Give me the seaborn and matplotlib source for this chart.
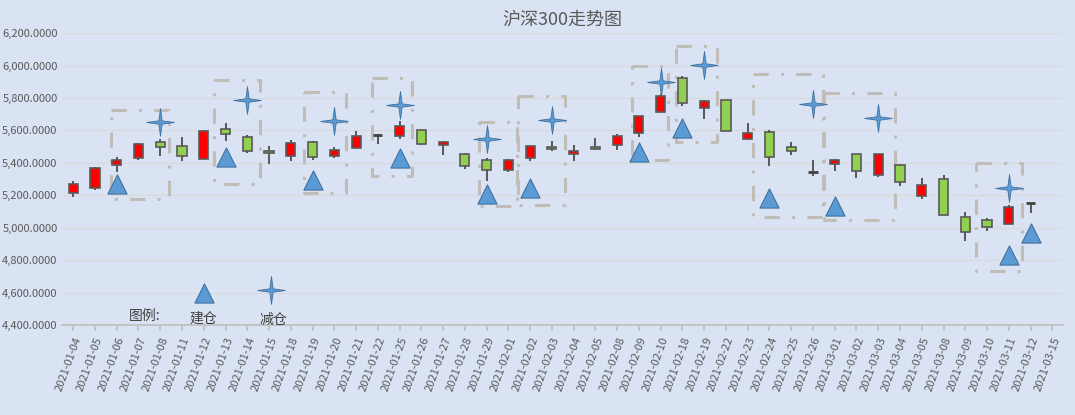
import numpy as np
import matplotlib
matplotlib.use("Agg")
import matplotlib.pyplot as plt
from matplotlib.path import Path
from matplotlib.ticker import FuncFormatter
import seaborn as sns

dates = ["2021-01-04", "2021-01-05", "2021-01-06", "2021-01-07", "2021-01-08", "2021-01-11",
         "2021-01-12", "2021-01-13", "2021-01-14", "2021-01-15", "2021-01-18", "2021-01-19",
         "2021-01-20", "2021-01-21", "2021-01-22", "2021-01-25", "2021-01-26", "2021-01-27",
         "2021-01-28", "2021-01-29", "2021-02-01", "2021-02-02", "2021-02-03", "2021-02-04",
         "2021-02-05", "2021-02-08", "2021-02-09", "2021-02-10", "2021-02-18", "2021-02-19",
         "2021-02-22", "2021-02-23", "2021-02-24", "2021-02-25", "2021-02-26", "2021-03-01",
         "2021-03-02", "2021-03-03", "2021-03-04", "2021-03-05", "2021-03-08", "2021-03-09",
         "2021-03-10", "2021-03-11", "2021-03-12", "2021-03-15"]
nan = np.nan
opens = [5215, 5246, 5388, 5431, 5529, 5505, 5425, 5609, 5560, 5474, 5443, 5529, 5443, 5492,
         5570, 5566, 5603, 5511, 5455, 5418, 5357, 5431, 5498, 5455, 5498, 5511, 5585, 5714,
         5923, 5738, 5788, 5548, 5591, 5498, 5342, 5394, 5455, 5326, 5388, 5195, 5302, 5068,
         5047, 5023, 5151, nan]
closes = [5271, 5369, 5418, 5517, 5498, 5441, 5599, 5578, 5474, 5462, 5523, 5437, 5480, 5564,
          5572, 5628, 5517, 5529, 5382, 5357, 5418, 5505, 5486, 5474, 5486, 5564, 5689, 5812,
          5769, 5782, 5597, 5585, 5437, 5474, 5344, 5418, 5349, 5455, 5281, 5265, 5078, 4973,
          5004, 5129, 5153, nan]
highs = [5287, 5372, 5437, 5520, 5548, 5560, 5601, 5646, 5570, 5503, 5539, 5537, 5498, 5595,
         5578, 5656, 5605, 5535, 5461, 5431, 5424, 5505, 5535, 5511, 5554, 5576, 5689, 5825,
         5933, 5790, 5788, 5646, 5605, 5529, 5416, 5424, 5455, 5455, 5394, 5308, 5326, 5099,
         5057, 5142, 5153, nan]
lows = [5191, 5232, 5343, 5420, 5441, 5410, 5422, 5535, 5460, 5396, 5414, 5418, 5431, 5490,
        5517, 5548, 5512, 5449, 5363, 5287, 5343, 5410, 5474, 5412, 5478, 5480, 5560, 5706,
        5749, 5671, 5597, 5540, 5382, 5447, 5318, 5349, 5308, 5314, 5257, 5177, 5078, 4918,
        4980, 5023, 5090, nan]

buy_idx = [2, 7, 11, 15, 19, 21, 26, 28, 32, 35, 43, 44]
buy_price = [5267, 5435, 5297, 5430, 5205, 5246, 5465, 5615, 5185, 5133, 4832, 4969]
sell_idx = [4, 8, 12, 15, 19, 22, 27, 29, 34, 37, 43]
sell_price = [5650, 5786, 5656, 5759, 5550, 5667, 5896, 6005, 5765, 5677, 5248]

# boxes: (x0, x1, y_low, y_high) in index / price units
boxes = [(1.75, 4.4, 5174, 5728), (6.45, 8.6, 5267, 5909), (10.6, 12.55, 5211, 5837),
         (13.75, 15.55, 5322, 5923), (18.65, 20.4, 5133, 5650), (20.45, 22.6, 5139, 5810),
         (25.7, 27.35, 5415, 5995), (27.7, 29.6, 5529, 6122), (31.25, 34.45, 5066, 5948),
         (34.5, 37.75, 5048, 5831), (41.5, 43.6, 4732, 5400)]

bg = "#DAE3F3"
sns.set_theme(style="white", rc={"axes.facecolor": bg, "figure.facecolor": bg})
plt.rcParams['font.family'] = ['Noto Sans CJK SC', 'DejaVu Sans']

star = Path([(0, 1), (0.12, 0.12), (1, 0), (0.12, -0.12), (0, -1), (-0.12, -0.12),
             (-1, 0), (-0.12, 0.12), (0, 1)])

fig = plt.figure(figsize=(10.75, 4.15), dpi=100)
ax = fig.add_axes([0.058, 0.217, 0.931, 0.703])

x = np.arange(len(dates))
o = np.array(opens); c = np.array(closes)
for i in x:
    if np.isnan(o[i]):
        continue
    up = c[i] >= o[i]
    col = "#FF0000" if up else "#92D050"
    ax.vlines(i, lows[i], highs[i], color="#404040", lw=1.2, zorder=2)
    h = abs(c[i] - o[i])
    if h < 6:
        ax.hlines(o[i], i - 0.21, i + 0.21, color="#404040", lw=2, zorder=3)
    else:
        ax.bar(i, h, bottom=min(o[i], c[i]), width=0.42, color=col,
               edgecolor="#595959", linewidth=1.2, zorder=3)

for x0, x1, y0, y1 in boxes:
    ax.plot([x0, x1, x1, x0, x0], [y1, y1, y0, y0, y1], color="#C0BDB8",
            lw=2.2, ls=(0, (5, 4, 1, 4)), zorder=1)

sns.scatterplot(x=buy_idx, y=buy_price, marker="^", s=190, color="#5B9BD5",
                edgecolor="#41719C", linewidth=0.8, ax=ax, zorder=4)
sns.scatterplot(x=sell_idx, y=sell_price, marker=star, s=400, color="#5B9BD5",
                edgecolor="#41719C", linewidth=0.6, ax=ax, zorder=4)

# legend drawn inside plot
ax.scatter([6.0], [4595], marker="^", s=190, color="#5B9BD5", edgecolor="#41719C", lw=0.8, zorder=4)
ax.scatter([9.1], [4615], marker=star, s=400, color="#5B9BD5", edgecolor="#41719C", lw=0.6, zorder=4)
ax.text(3.3, 4410, "图例:", fontsize=10, color="#404040", ha="center", va="bottom")
ax.text(6.0, 4395, "建仓", fontsize=10, color="#404040", ha="center", va="bottom")
ax.text(9.2, 4385, "减仓", fontsize=10, color="#404040", ha="center", va="bottom", clip_on=False)

ax.set_xlim(-0.5, 45.5)
ax.set_ylim(4400, 6200)
ax.set_yticks(np.arange(4400, 6201, 200))
ax.yaxis.set_major_formatter(FuncFormatter(lambda v, p: f"{v:,.4f}"))
ax.set_xticks(x)
ax.set_xticklabels(dates, rotation=70, ha="right", rotation_mode="anchor", fontsize=8, color="#595959")
ax.tick_params(axis="y", labelsize=8, labelcolor="#595959", length=0)
ax.tick_params(axis="x", length=4, color="#BFBFBF", bottom=True)
ax.grid(axis="y", color="#D9D9D9", lw=0.8)
ax.set_axisbelow(True)
for s in ["top", "right", "left"]:
    ax.spines[s].set_visible(False)
ax.spines["bottom"].set_color("#BFBFBF")
ax.set_title("沪深300走势图", fontsize=13, color="#595959", pad=6)

fig.savefig("out.png", dpi=100, facecolor=bg)
